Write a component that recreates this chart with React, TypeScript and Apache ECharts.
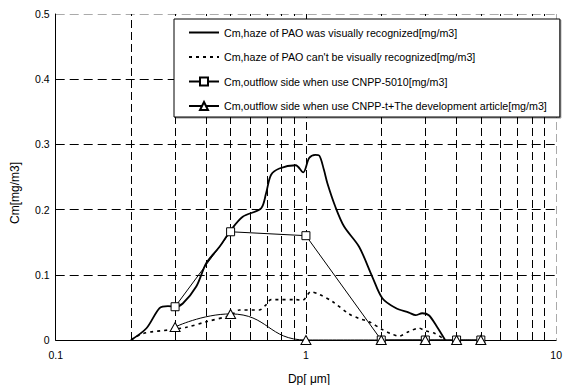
import React, { useEffect, useRef } from "react";
import * as echarts from "echarts";

const seriesNames = [
  "Cm,haze of PAO was visually recognized[mg/m3]",
  "Cm,haze of PAO can't be visually recognized[mg/m3]",
  "Cm,outflow side when use CNPP-5010[mg/m3]",
  "Cm,outflow side when use CNPP-t+The development article[mg/m3]",
];

const visibleX = [0.2, 0.2305, 0.26, 0.281, 0.3, 0.322, 0.3645, 0.4, 0.4515, 0.5, 0.559, 0.662, 0.693, 0.725, 0.783, 0.91, 0.975, 1.03, 1.09, 1.13, 1.18, 1.219, 1.312, 1.421, 1.631, 1.842, 2.02, 2.284, 2.58, 2.743, 2.914, 3.099, 3.344, 3.6];
const visibleY = [0, 0.018, 0.049, 0.052, 0.051, 0.056, 0.082, 0.118, 0.143, 0.168, 0.189, 0.202, 0.225, 0.253, 0.263, 0.268, 0.257, 0.279, 0.284, 0.283, 0.261, 0.24, 0.204, 0.174, 0.143, 0.097, 0.064, 0.049, 0.042, 0.038, 0.041, 0.038, 0.02, 0];

const invisibleX = [0.2, 0.2234, 0.29, 0.333, 0.4, 0.5, 0.542, 0.65, 0.693, 0.725, 0.91, 0.97, 1.047, 1.13, 1.276, 1.487, 1.631, 1.787, 2.02, 2.18, 2.353, 2.58, 2.828, 3.0, 3.28, 3.6];
const invisibleY = [0, 0.01, 0.016, 0.0195, 0.028, 0.038, 0.046, 0.046, 0.054, 0.062, 0.062, 0.061, 0.074, 0.07, 0.059, 0.04, 0.033, 0.028, 0.016, 0.01, 0.006, 0.013, 0.018, 0.014, 0.01, 0];

const cnppX = [0.3, 0.5, 1, 2, 3, 4, 5];
const cnppY = [0.051, 0.166, 0.16, 0, 0, 0, 0];

const devX = [0.3, 0.5, 1, 2, 3, 4, 5];
const devY = [0.02, 0.04, 0, 0, 0, 0, 0];

const minorGridX = [0.2, 0.3, 0.4, 0.5, 0.6, 0.7, 0.8, 0.9, 2, 3, 4, 5, 6, 7, 8, 9];

const zip = (xs: number[], ys: number[]) => xs.map((x, i) => [x, ys[i]]);

const FONT = "Liberation Sans, Arial, sans-serif";
const CLEAR = "rgba(0,0,0,0)";

export default function App() {
  const ref = useRef<HTMLDivElement>(null);
  useEffect(() => {
    if (!ref.current) return;
    const chart = echarts.init(ref.current, undefined, { renderer: "svg" });
    chart.setOption({
      animation: false,
      backgroundColor: "#fff",
      textStyle: { fontFamily: FONT },
      grid: { left: 55.7, right: 7.3, top: 14, bottom: 45, containLabel: false },
      xAxis: {
        type: "log",
        logBase: 10,
        min: 0.1,
        max: 10,
        axisLine: { show: true, lineStyle: { color: "#000", width: 1 } },
        axisTick: { show: false },
        axisLabel: { color: "#000", fontSize: 10.5, fontFamily: FONT, margin: 9 },
        splitLine: {
          show: true,
          lineStyle: { color: ["#000", "#000", "#aaa"], type: [8, 4], width: 1 },
        },
      },
      yAxis: {
        type: "value",
        min: 0,
        max: 0.5,
        interval: 0.1,
        axisLine: { show: true, lineStyle: { color: "#000", width: 1 } },
        axisTick: { show: false },
        axisLabel: { color: "#000", fontSize: 10.5, fontFamily: FONT, margin: 6 },
        splitLine: {
          show: true,
          lineStyle: {
            color: ["#000", "#000", "#000", "#000", "#000", "#aaa"],
            type: [9, 5],
            width: 1,
          },
        },
      },
      legend: {
        orient: "vertical",
        left: 174,
        top: 19,
        z: 10,
        padding: [6.5, 13, 4, 14],
        itemGap: 10.5,
        itemWidth: 30,
        itemHeight: 10,
        backgroundColor: "#fff",
        borderColor: "#000",
        borderWidth: 1,
        shadowColor: "rgba(0,0,0,0.45)",
        shadowOffsetX: 1,
        shadowOffsetY: 1,
        shadowBlur: 0,
        textStyle: { color: "#000", fontSize: 10.7, fontFamily: FONT, lineHeight: 14 },
        data: seriesNames,
      },
      graphic: [
        {
          type: "text",
          x: 15,
          y: 193,
          rotation: Math.PI / 2,
          style: {
            text: "Cm[mg/m3]",
            fill: "#000",
            font: "12px Liberation Sans, Arial, sans-serif",
            textAlign: "center",
            textVerticalAlign: "middle",
          },
        },
        {
          type: "text",
          x: 309,
          y: 379,
          style: {
            text: "Dp[ μm]",
            fill: "#000",
            font: "12px Liberation Sans, Arial, sans-serif",
            textAlign: "center",
            textVerticalAlign: "middle",
          },
        },
      ],
      series: [
        {
          name: seriesNames[0],
          type: "line",
          z: 3,
          data: zip(visibleX, visibleY),
          smooth: 0.3,
          showSymbol: false,
          symbol: "none",
          lineStyle: { color: "#000", width: 1.8 },
          itemStyle: { color: CLEAR, borderColor: CLEAR, borderWidth: 0 },
          markLine: {
            silent: true,
            z: 1,
            symbol: ["none", "none"],
            label: { show: false },
            lineStyle: { color: "#000", type: [8, 4], width: 1 },
            emphasis: { disabled: true },
            data: minorGridX.map((v) => ({ xAxis: v })),
          },
        },
        {
          name: seriesNames[1],
          type: "line",
          z: 3,
          data: zip(invisibleX, invisibleY),
          smooth: 0.3,
          showSymbol: false,
          symbol: "none",
          lineStyle: { color: "#000", width: 1.6, type: [3, 4] },
          itemStyle: { color: CLEAR, borderColor: CLEAR, borderWidth: 0 },
        },
        {
          name: seriesNames[2],
          type: "line",
          z: 3,
          data: zip(cnppX, cnppY),
          symbol: "rect",
          symbolSize: 8,
          lineStyle: { color: "#000", width: 1 },
          itemStyle: { color: "#fff", borderColor: "#000", borderWidth: 1 },
        },
        {
          name: seriesNames[3],
          type: "line",
          z: 3,
          data: zip(devX, devY),
          smooth: 0.5,
          smoothMonotone: "x",
          symbol: "triangle",
          symbolSize: [10, 9],
          lineStyle: { color: "#000", width: 1 },
          itemStyle: { color: "#fff", borderColor: "#000", borderWidth: 1 },
        },
      ],
    });
    return () => chart.dispose();
  }, []);
  return (
    <div
      ref={ref}
      style={{ position: "fixed", left: 0, top: 0, width: 565, height: 385, background: "#fff" }}
    />
  );
}
